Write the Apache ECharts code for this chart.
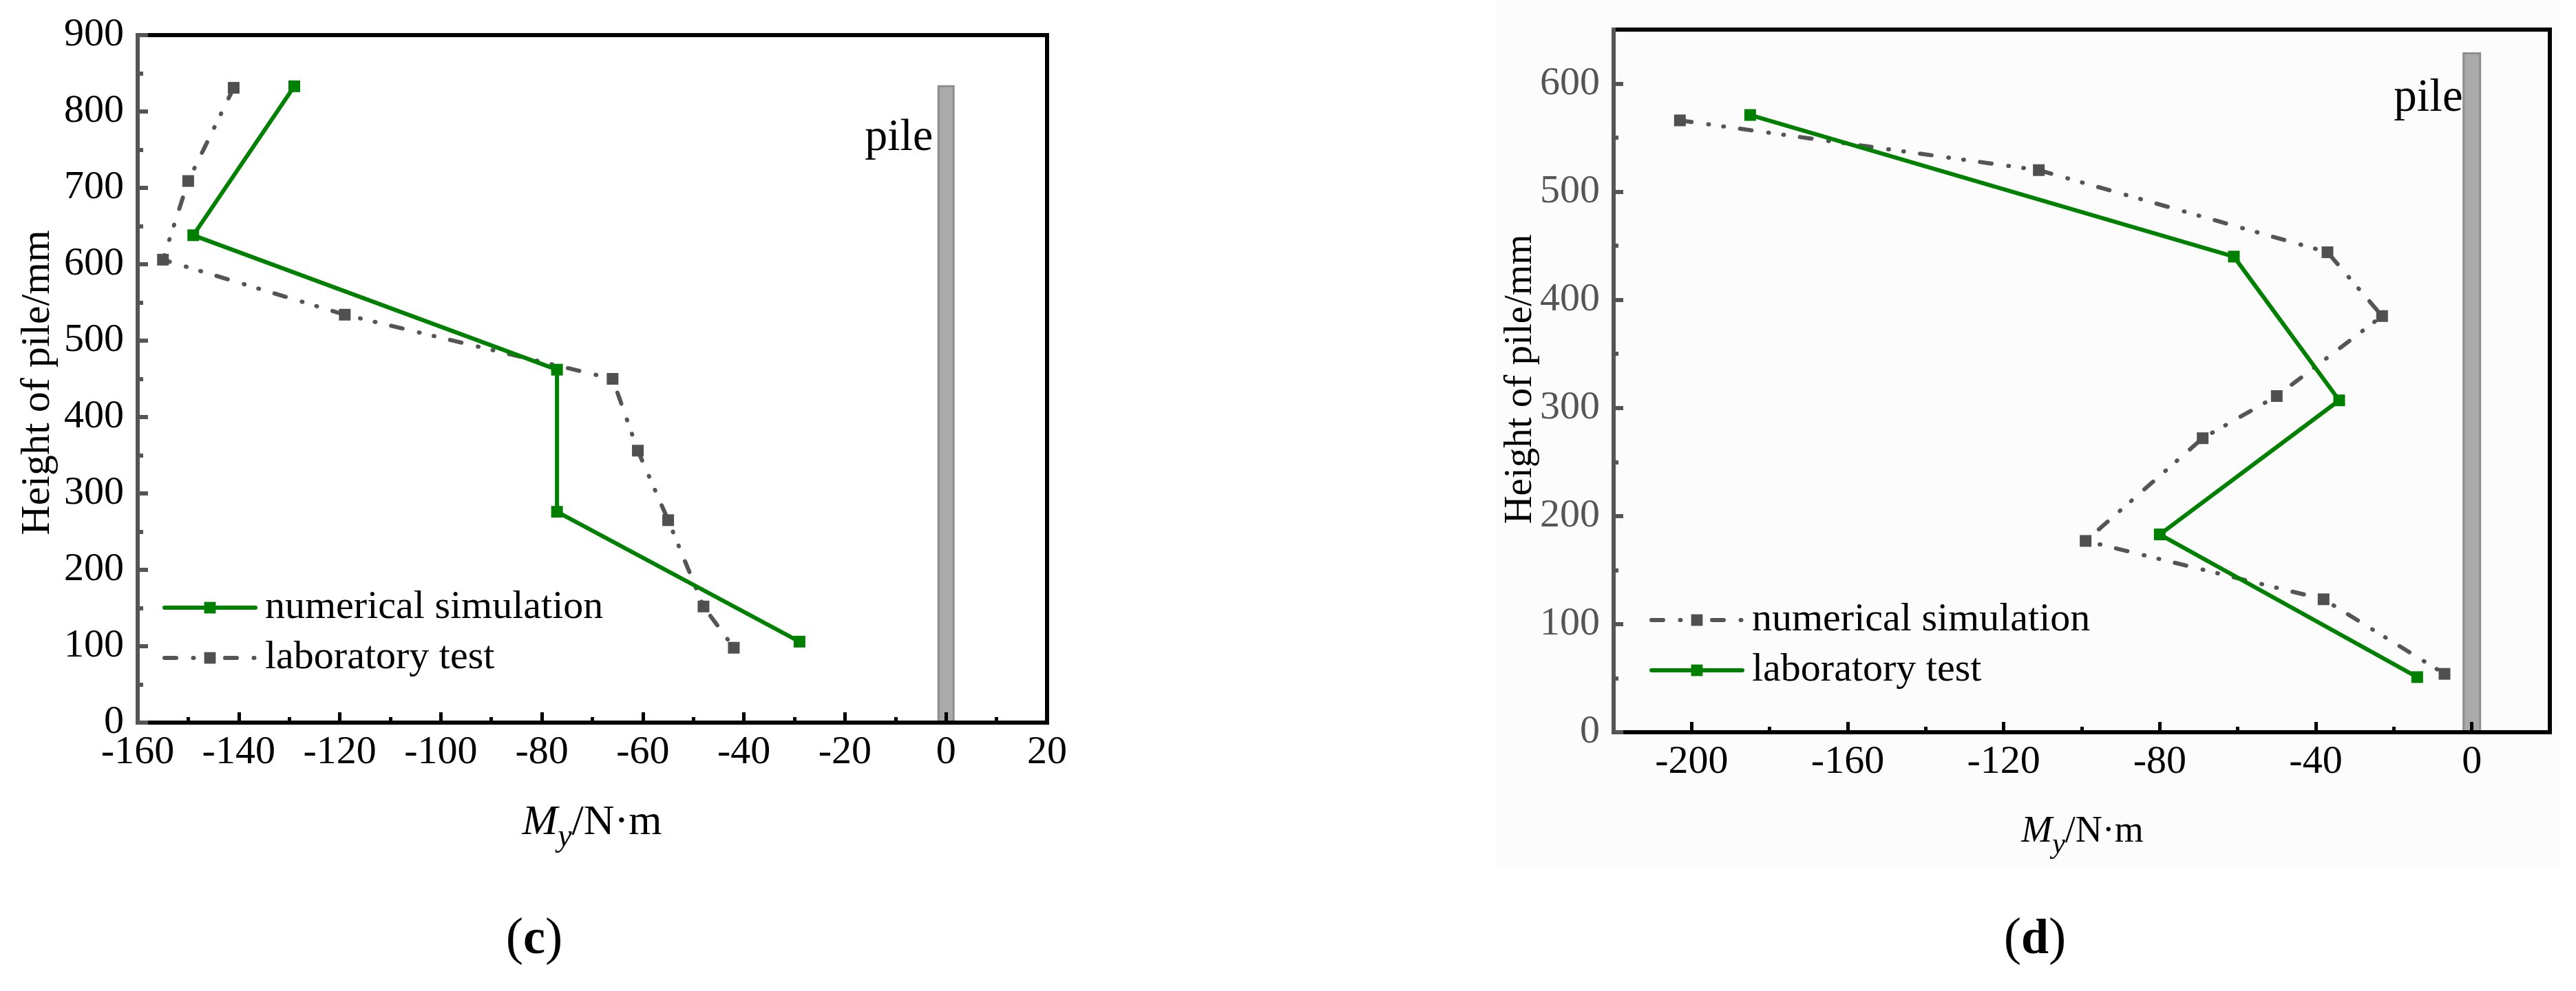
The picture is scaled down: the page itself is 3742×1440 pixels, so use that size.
<!DOCTYPE html>
<html>
<head>
<meta charset="utf-8">
<script src="https://cdn.jsdelivr.net/npm/echarts@6/dist/echarts.min.js"></script>
<style>
html,body{margin:0;padding:0;background:#ffffff;}
#chartC{position:absolute;left:0;top:0;width:1871px;height:1440px;}
#chartD{position:absolute;left:1871px;top:0;width:1871px;height:1440px;}
</style>
</head>
<body>
<div id="chartC"></div>
<div id="chartD"></div>
<script>
// ---------- Data: panel (c) ----------
const cNumMoment = [-129, -149, -77, -77, -29];
const cNumHeight = [833, 638, 462, 276, 106];
const cLabMoment = [-141, -150, -155, -119, -66, -61, -55, -48, -42];
const cLabHeight = [831, 709, 606, 534, 450, 356, 265, 152, 98];
const cPileHeight = 833;
const cXMin = -160, cXMax = 20, cXStep = 20;
const cYMin = 0, cYMax = 900, cYStep = 100;

// ---------- Data: panel (d) ----------
const dNumMoment = [-203, -111, -37, -23, -50, -69, -99, -38, -7];
const dNumHeight = [566, 520, 444, 385, 311, 272, 177, 123, 54];
const dLabMoment = [-185, -61, -34, -80, -14];
const dLabHeight = [571, 440, 307, 183, 51];
const dPileHeight = 628;
const dXMin = -220, dXMax = 20;
const dXMajor = [-200, -160, -120, -80, -40, 0];
const dXMinor = [-180, -140, -100, -60, -20];
const dYMin = 0, dYMax = 650;
const dYMajor = [0, 100, 200, 300, 400, 500, 600];
const dYMinor = [50, 150, 250, 350, 450, 550];

const legendNames = ['numerical simulation', 'laboratory test'];
const xTitle = '{m|M}{s|y}{n|/N·m}';
const yTitle = 'Height of pile/mm';

// ---------- Styles ----------
const FONT = '"Liberation Serif", "Times New Roman", serif';
const GREEN = '#008000';
const GRAY = '#555555';
const DASH_DOT_DOT = [17, 24.5, 1, 21, 1, 23.5];

function pairs(xs, ys) { return xs.map((x, i) => [x, ys[i]]); }

function greenSeries(name, data) {
  return {
    type: 'line', name: name, data: data,
    symbol: 'rect', symbolSize: 17, showAllSymbol: true,
    lineStyle: { color: GREEN, width: 6, type: 'solid', cap: 'round', join: 'round' },
    itemStyle: { color: GREEN }, z: 4
  };
}
function graySeries(name, data) {
  return {
    type: 'line', name: name, data: data,
    symbol: 'rect', symbolSize: 17, showAllSymbol: true,
    lineStyle: { color: GRAY, width: 6, type: DASH_DOT_DOT, cap: 'round', join: 'round' },
    itemStyle: { color: '#505050' }, z: 3
  };
}
function pileSeries(top, barW, textGap, textDy, fontSize) {
  return {
    type: 'custom', name: 'pile', data: [[0, top]], z: 1, silent: true,
    renderItem: function (params, api) {
      const t = api.coord([api.value(0), api.value(1)]);
      const b = api.coord([api.value(0), 0]);
      return {
        type: 'group',
        children: [
          { type: 'rect', shape: { x: t[0] - barW / 2, y: t[1], width: barW, height: b[1] - t[1] },
            style: { fill: '#aaaaaa', stroke: '#8e8e8e', lineWidth: 3 } },
          { type: 'text', style: { text: 'pile', x: t[0] - barW / 2 - textGap, y: t[1] + textDy,
            align: 'right', verticalAlign: 'middle', fontFamily: FONT, fontSize: fontSize, fill: '#000' } }
        ]
      };
    }
  };
}
function frameAxis(pos) {
  return {
    type: 'value', position: pos, z: 5,
    axisLine: { show: true, onZero: false, lineStyle: { color: '#000', width: 6, cap: 'square' } },
    axisTick: { show: false }, axisLabel: { show: false }, splitLine: { show: false }
  };
}
function xTitleGraphic(x, y, fs, sfs, lh) {
  return {
    type: 'text', x: x, y: y,
    style: {
      text: xTitle, align: 'center', verticalAlign: 'middle', fill: '#000',
      rich: {
        m: { fontFamily: FONT, fontSize: fs, fontStyle: 'italic', lineHeight: lh, verticalAlign: 'middle', fill: '#000' },
        s: { fontFamily: FONT, fontSize: sfs, fontStyle: 'italic', lineHeight: sfs, verticalAlign: 'bottom', fill: '#000' },
        n: { fontFamily: FONT, fontSize: fs, lineHeight: lh, verticalAlign: 'middle', fill: '#000' }
      }
    }
  };
}
function yTitleGraphic(x, y, fs) {
  return {
    type: 'text', x: x, y: y, rotation: Math.PI / 2,
    style: { text: yTitle, align: 'center', verticalAlign: 'middle', fontFamily: FONT, fontSize: fs, fill: '#000' }
  };
}
function captionGraphic(x, y, letter) {
  return {
    type: 'text', x: x, y: y,
    style: {
      text: '{p|(}{b|' + letter + '}{p|)}', align: 'center', verticalAlign: 'middle',
      rich: {
        p: { fontFamily: FONT, fontSize: 76, fill: '#000', lineHeight: 90 },
        b: { fontFamily: FONT, fontSize: 72, fontWeight: 'bold', fill: '#000', lineHeight: 90 }
      }
    }
  };
}
function legendOpt(left, top, names) {
  return {
    orient: 'vertical', left: left, top: top, padding: 0,
    itemWidth: 132, itemHeight: 21, itemGap: 15,
    data: names,
    lineStyle: { width: 6 },
    textStyle: { fontFamily: FONT, fontSize: 58, color: '#000', lineHeight: 58, padding: [0, 0, 0, 9] }
  };
}

// ---------- Panel (c) ----------
const chartC = echarts.init(document.getElementById('chartC'), null, { renderer: 'canvas' });
chartC.setOption({
  animation: false,
  backgroundColor: '#ffffff',
  grid: { left: 200, top: 51, width: 1321, height: 999, containLabel: false },
  legend: legendOpt(236, 854, legendNames),
  xAxis: [
    {
      type: 'value', position: 'bottom', min: cXMin, max: cXMax, interval: cXStep, z: 5,
      axisLine: { show: true, onZero: false, lineStyle: { color: '#000', width: 6, cap: 'square' } },
      axisTick: { show: true, inside: true, length: 15, lineStyle: { color: '#000', width: 5 } },
      minorTick: { show: true, splitNumber: 2, length: 8, lineStyle: { color: '#000', width: 5 } },
      axisLabel: { fontFamily: FONT, fontSize: 58, color: '#000', margin: 15 },
      splitLine: { show: false }, minorSplitLine: { show: false }
    },
    Object.assign(frameAxis('top'), { min: cXMin, max: cXMax })
  ],
  yAxis: [
    {
      type: 'value', position: 'left', min: cYMin, max: cYMax, interval: cYStep, z: 6,
      axisLine: { show: true, onZero: false, lineStyle: { color: GRAY, width: 6, cap: 'square' } },
      axisTick: { show: true, inside: true, length: 15, lineStyle: { color: GRAY, width: 6 } },
      minorTick: { show: true, splitNumber: 2, length: 8, lineStyle: { color: GRAY, width: 6 } },
      axisLabel: { fontFamily: FONT, fontSize: 58, color: '#000', margin: 20 },
      splitLine: { show: false }, minorSplitLine: { show: false }
    },
    Object.assign(frameAxis('right'), { min: cYMin, max: cYMax })
  ],
  graphic: [
    xTitleGraphic(860, 1196, 62, 46, 88),
    yTitleGraphic(55, 556, 60),
    captionGraphic(776, 1366, 'c')
  ],
  series: [
    pileSeries(cPileHeight, 22, 8, 75, 66),
    greenSeries(legendNames[0], pairs(cNumMoment, cNumHeight)),
    graySeries(legendNames[1], pairs(cLabMoment, cLabHeight))
  ]
});

// ---------- Panel (d) ----------
const chartD = echarts.init(document.getElementById('chartD'), null, { renderer: 'canvas' });
chartD.setOption({
  animation: false,
  backgroundColor: '#ffffff',
  grid: { left: 473, top: 43, width: 1360, height: 1021, containLabel: false },
  legend: legendOpt(525, 872, legendNames),
  xAxis: [
    {
      type: 'value', position: 'bottom', min: dXMin, max: dXMax, z: 5,
      axisLine: { show: true, onZero: false, lineStyle: { color: '#000', width: 6, cap: 'square' } },
      axisTick: { show: true, inside: true, length: 15, customValues: dXMajor, lineStyle: { color: '#000', width: 5 } },
      axisLabel: { fontFamily: FONT, fontSize: 58, color: '#000', margin: 15, customValues: dXMajor },
      splitLine: { show: false }
    },
    Object.assign(frameAxis('top'), { min: dXMin, max: dXMax }),
    {
      type: 'value', position: 'bottom', min: dXMin, max: dXMax, z: 5,
      axisLine: { show: false, onZero: false },
      axisTick: { show: true, inside: true, length: 8, customValues: dXMinor, lineStyle: { color: '#000', width: 5 } },
      axisLabel: { show: false }, splitLine: { show: false }
    }
  ],
  yAxis: [
    {
      type: 'value', position: 'left', min: dYMin, max: dYMax, z: 6,
      axisLine: { show: true, onZero: false, lineStyle: { color: GRAY, width: 6, cap: 'square' } },
      axisTick: { show: true, inside: true, length: 14, customValues: dYMajor, lineStyle: { color: GRAY, width: 6 } },
      axisLabel: { fontFamily: FONT, fontSize: 58, color: GRAY, margin: 20, customValues: dYMajor },
      splitLine: { show: false }
    },
    Object.assign(frameAxis('right'), { min: dYMin, max: dYMax }),
    {
      type: 'value', position: 'left', min: dYMin, max: dYMax, z: 6,
      axisLine: { show: false, onZero: false },
      axisTick: { show: true, inside: true, length: 7, customValues: dYMinor, lineStyle: { color: GRAY, width: 6 } },
      axisLabel: { show: false }, splitLine: { show: false }
    }
  ],
  graphic: [
    { type: 'rect', z: -100, shape: { x: 301, y: 0, width: 1546, height: 1258 }, style: { fill: '#fcfcfc' } },
    xTitleGraphic(1154, 1209, 54, 42, 80),
    yTitleGraphic(338, 551, 57),
    captionGraphic(1085, 1366, 'd')
  ],
  series: [
    pileSeries(dPileHeight, 24, 1, 66, 67),
    graySeries(legendNames[0], pairs(dNumMoment, dNumHeight)),
    greenSeries(legendNames[1], pairs(dLabMoment, dLabHeight))
  ]
});
</script>
</body>
</html>
